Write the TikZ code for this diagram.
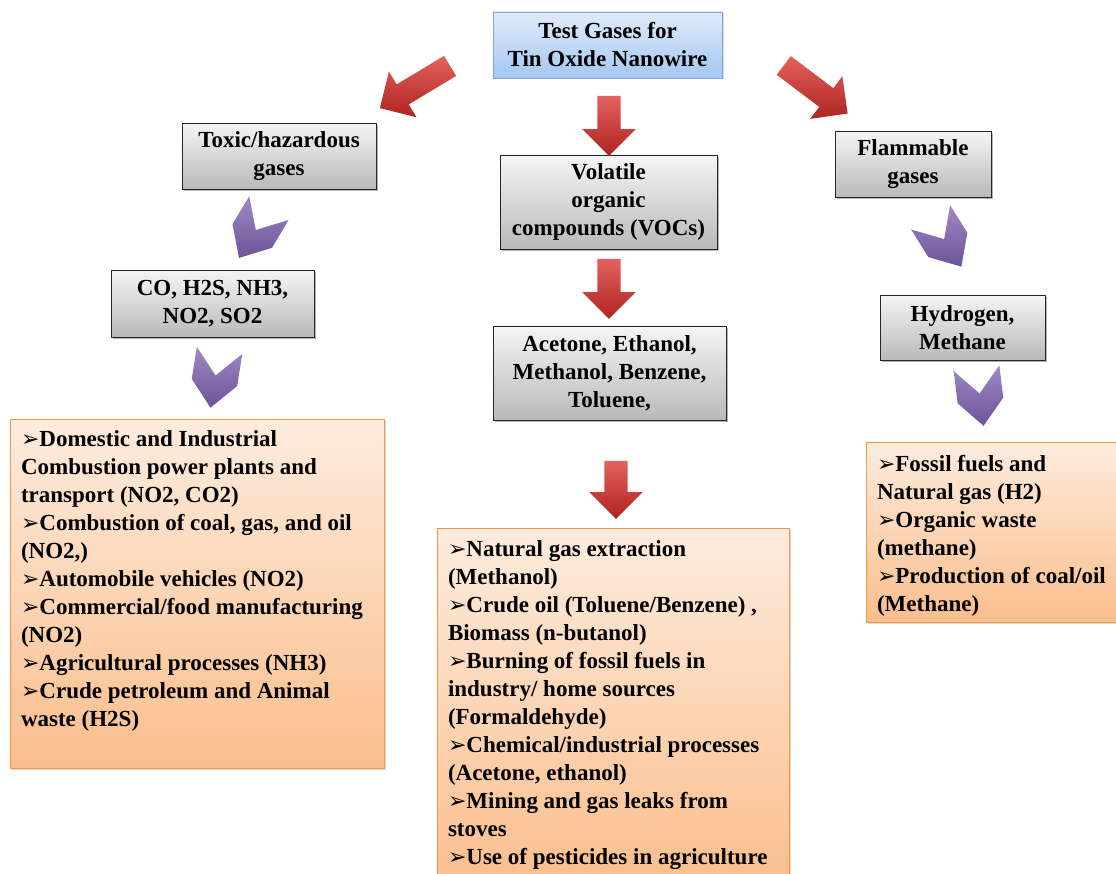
\documentclass[tikz,border=0pt]{standalone}
\usepackage{fontspec}
\setmainfont{Liberation Serif}
\newfontfamily\dingfont{DejaVu Sans}
\usetikzlibrary{shapes,arrows,positioning,shadows}
\definecolor{boxgray}{RGB}{185,185,185}
\definecolor{titletop}{RGB}{224,235,251}
\definecolor{titlebottom}{RGB}{164,199,242}
\definecolor{titleline}{RGB}{126,166,216}
\definecolor{srctop}{RGB}{253,236,222}
\definecolor{srcbottom}{RGB}{250,190,140}
\definecolor{srcline}{RGB}{245,150,70}
\definecolor{arrowred}{RGB}{218,45,40}
\definecolor{chevpurple}{RGB}{128,98,178}
\newcommand{\bul}{{\dingfont\bfseries\fontsize{22}{28}\selectfont\char"27A2}}

\begin{document}
\begin{tikzpicture}[x=1pt, y=-1pt,
    every node/.style={font=\fontsize{23}{28}\selectfont\bfseries, inner sep=0pt},
    titlebox/.style={
        rectangle, draw=titleline, top color=titletop, bottom color=titlebottom,
        align=center, drop shadow={shadow xshift=1.5pt, shadow yshift=-1.5pt, opacity=0.3}
    },
    graybox/.style={
        rectangle, draw=black!85, top color=black!4, bottom color=boxgray,
        align=center, drop shadow={shadow xshift=2pt, shadow yshift=-2pt, opacity=0.6}
    },
    srcbox/.style={
        rectangle, draw=srcline, top color=srctop, bottom color=srcbottom,
        drop shadow={shadow xshift=1.5pt, shadow yshift=-1.5pt, opacity=0.3}
    },
    srctext/.style={anchor=north west, align=left},
    redarrow/.style={
        single arrow, draw=none, minimum height=60pt, inner xsep=0pt, inner ysep=11.5pt,
        single arrow head extend=15pt,
        top color=arrowred!75!white, middle color=arrowred, bottom color=arrowred!80!black
    },
    chev/.style={
        signal, signal from=north, signal to=south, draw=none,
        signal pointer angle=84, minimum width=46pt, minimum height=7pt,
        top color=chevpurple!75!white, bottom color=chevpurple!85!black
    }
]
\useasboundingbox (0,0) rectangle (1116,874);
\clip (0,0) rectangle (1116,874);

% top
\node[titlebox, minimum width=229pt, minimum height=66pt] (title) at (607.5,45)
    {Test Gases for\\Tin Oxide Nanowire};

% three groups
\node[graybox, minimum width=194pt, minimum height=66pt] (toxic) at (279,156)
    {Toxic/hazardous\\gases};
\node[graybox, minimum width=217pt, minimum height=94pt] (voc) at (608.5,202)
    {Volatile\\organic\\compounds (VOCs)};
\node[graybox, minimum width=156pt, minimum height=66pt] (flam) at (913,164)
    {Flammable\\gases};

\node[graybox, minimum width=203pt, minimum height=67pt] (toxlist) at (212.5,303.5)
    {CO, H2S, NH3,\\NO2, SO2};
\node[graybox, minimum width=233pt, minimum height=94pt] (voclist) at (609.5,373)
    {Acetone, Ethanol,\\Methanol, Benzene,\\Toluene,};
\node[graybox, minimum width=165pt, minimum height=65pt] (flamlist) at (962.5,327.5)
    {Hydrogen,\\Methane};

% arrows
\node[redarrow, minimum height=82pt, rotate=211] (toxarrow) at (420,84) {};
\node[redarrow, rotate=-90] (vocarrow) at (609,120) {};
\node[redarrow, minimum height=80pt, rotate=-37] (flamarrow) at (811,86) {};
\node[redarrow, rotate=-90] (vocarrowb) at (609,283) {};
\node[redarrow, minimum height=58pt, rotate=-90] (vocarrowc) at (616,484) {};

\node[chev, rotate=-31] (toxchev) at (254,233) {};
\node[chev, rotate=-9] (toxchevb) at (215,379) {};
\node[chev, rotate=32] (flamchev) at (946,242) {};
\node[chev, rotate=7] (flamchevb) at (980,397) {};

% sources
\node[srcbox, minimum width=374pt, minimum height=349pt] (toxsrc) at (197,593.5) {};
\node[srctext] (toxsrctext) at ([xshift=11pt, yshift=-12pt]toxsrc.north west)
    {\bul Domestic and Industrial\\
     Combustion power plants and\\
     transport (NO2, CO2)\\
     \bul Combustion of coal, gas, and oil\\
     (NO2,)\\
     \bul Automobile vehicles (NO2)\\
     \bul Commercial/food manufacturing\\
     (NO2)\\
     \bul Agricultural processes (NH3)\\
     \bul Crude petroleum and Animal\\
     waste (H2S)};

\node[srcbox, minimum width=352pt, minimum height=360pt] (vocsrc) at (613,708) {};
\node[srctext] (vocsrctext) at ([xshift=11pt, yshift=-13pt]vocsrc.north west)
    {\bul Natural gas extraction\\
     (Methanol)\\
     \bul Crude oil (Toluene/Benzene) ,\\
     Biomass (n-butanol)\\
     \bul Burning of fossil fuels in\\
     industry/ home sources\\
     (Formaldehyde)\\
     \bul Chemical/industrial processes\\
     (Acetone, ethanol)\\
     \bul Mining and gas leaks from\\
     stoves\\
     \bul Use of pesticides in agriculture};

\node[srcbox, minimum width=262pt, minimum height=180pt] (flamsrc) at (997,532) {};
\node[srctext] (flamsrctext) at ([xshift=11pt, yshift=-13pt]flamsrc.north west)
    {\bul Fossil fuels and\\
     Natural gas (H2)\\
     \bul Organic waste\\
     (methane)\\
     \bul Production of coal/oil\\
     (Methane)};

\end{tikzpicture}
\end{document}
